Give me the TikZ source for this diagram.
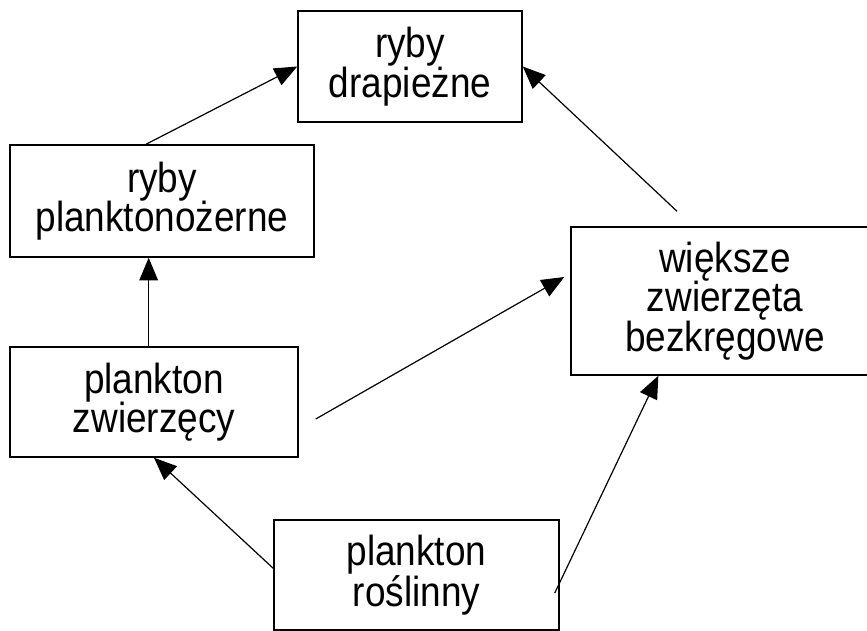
\documentclass[tikz,border=0pt]{standalone}
\usepackage{fontspec}
\setmainfont{Liberation Sans}[FakeStretch=0.88]
\usetikzlibrary{arrows.meta}
\tikzset{
	box/.style={draw, line width=1.1pt, inner sep=0pt, align=center, font=\fontsize{31.5}{29.5}\selectfont},
	arr/.style={line width=0.9pt, -{Triangle[length=17pt, width=14pt]}}
}
\begin{document}
\begin{tikzpicture}[x=0.75pt,y=-0.75pt]
	\useasboundingbox (0,0) rectangle (867,631);
	\node [box, minimum width=168pt, minimum height=83.25pt] at (410,66.5) (drapiezne) {ryby\\drapieżne};
	\node [box, minimum width=228pt, minimum height=84pt] at (162,201) (planktonozerne) {ryby\\planktonożerne};
	\node [box, minimum width=216pt, minimum height=82.5pt] at (154,402) (zwierzecy) {plankton\\zwierzęcy};
	\node [box, minimum width=231pt, minimum height=111pt] at (725,301) (bezkregowe) {większe\\zwierzęta\\bezkręgowe};
	\node [box, minimum width=213.75pt, minimum height=82.5pt] at (416.5,575) (roslinny) {plankton\\roślinny};
	% who eats whom
	\draw [arr] ([xshift=-12]planktonozerne.north) -- (drapiezne.west);
	\draw [arr] ([shift={(-48,-15)}]bezkregowe.north) -- (drapiezne.east);
	\draw [arr] ([xshift=-4]zwierzecy.north) -- ([xshift=-4]zwierzecy.north |- planktonozerne.south);
	\draw [arr] ([shift={(17,17)}]zwierzecy.east) -- ([shift={(-6,-24)}]bezkregowe.west);
	\draw [arr] ([yshift=5]roslinny.west) -- (zwierzecy.south);
	\draw [arr] ([shift={(-5,18)}]roslinny.east) -- ([xshift=-50]bezkregowe.south);
\end{tikzpicture}
\end{document}
